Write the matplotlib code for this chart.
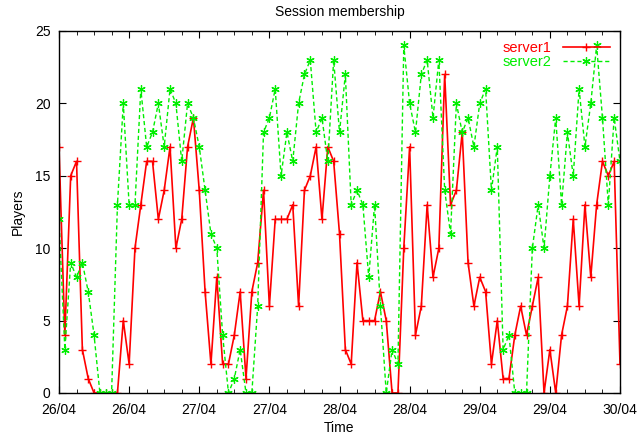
import numpy as np
import matplotlib
matplotlib.use("Agg")
import matplotlib.pyplot as plt
from matplotlib.ticker import MultipleLocator

plt.rcParams['font.family'] = ['Liberation Sans', 'DejaVu Sans']
plt.rcParams['font.size'] = 10

# hourly samples from 26/04 00:00 to 30/04 00:00
hours = np.arange(97)

server1 = [17, 4, 15, 16, 3, 1, 0, 0, 0, 0, 0, 5, 2, 10, 13, 16, 16, 12, 14, 17,
           10, 12, 17, 19, 14, 7, 2, 8, 2, 2, 4, 7, 1, 7, 9, 14, 6, 12, 12, 12,
           13, 6, 14, 15, 17, 12, 17, 16, 11, 3, 2, 9, 5, 5, 5, 7, 5, 0, 0, 10,
           17, 4, 6, 13, 8, 10, 22, 13, 14, 18, 9, 6, 8, 7, 2, 5, 1, 1, 4, 6,
           4, 6, 8, 0, 3, 0, 4, 6, 12, 6, 13, 8, 13, 16, 15, 16, 2]

server2 = [12, 3, 9, 8, 9, 7, 4, 0, 0, 0, 13, 20, 13, 13, 21, 17, 18, 20, 17, 21,
           20, 16, 20, 19, 17, 14, 11, 10, 4, 0, 1, 3, 0, 0, 6, 18, 19, 21, 15, 18,
           16, 20, 22, 23, 18, 19, 16, 23, 18, 22, 13, 14, 13, 8, 13, 6, 0, 3, 2, 24,
           20, 18, 22, 23, 19, 23, 14, 11, 20, 18, 19, 17, 20, 21, 14, 17, 3, 4, 0, 0,
           0, 10, 13, 10, 15, 19, 13, 18, 15, 21, 17, 20, 24, 19, 13, 19, 16]

tick_labels = ["26/04", "26/04", "27/04", "27/04", "28/04",
               "28/04", "29/04", "29/04", "30/04"]

fig = plt.figure(figsize=(6.44, 4.37), dpi=100)
ax = fig.add_axes([59 / 644, 44 / 437, 561 / 644, 362 / 437])

ax.plot(hours, server1, color='#ff0000', lw=1.2, marker='+', ms=6, mew=1.0,
        label='server1')
ax.plot(hours, server2, color='#00ee00', lw=1.0, ls=(0, (3, 2)),
        marker=(6, 2, 0), ms=6, mew=0.9, label='server2')

ax.set_xlim(0, 96)
ax.set_ylim(0, 25)
ax.set_xticks(np.arange(0, 97, 12))
ax.set_xticklabels(tick_labels)
ax.xaxis.set_minor_locator(MultipleLocator(3))
ax.set_yticks(np.arange(0, 26, 5))

ax.tick_params(which='both', direction='in', top=True, right=True, color='black')
ax.tick_params(which='major', length=5)
ax.tick_params(axis='x', which='major', pad=7)
ax.tick_params(axis='y', which='major', pad=6)
ax.tick_params(which='minor', length=3)
for sp in ax.spines.values():
    sp.set_linewidth(1.0)

ax.set_title("Session membership", fontsize=10, pad=11)
ax.set_xlabel("Time", labelpad=3)
ax.set_ylabel("Players", labelpad=7)

ax.legend(loc='upper right', frameon=False, markerfirst=False,
          labelcolor='linecolor', handlelength=3.2, borderaxespad=0.3,
          labelspacing=0.0, handletextpad=0.8, fontsize=10.5)

fig.savefig("out.png", dpi=100)
